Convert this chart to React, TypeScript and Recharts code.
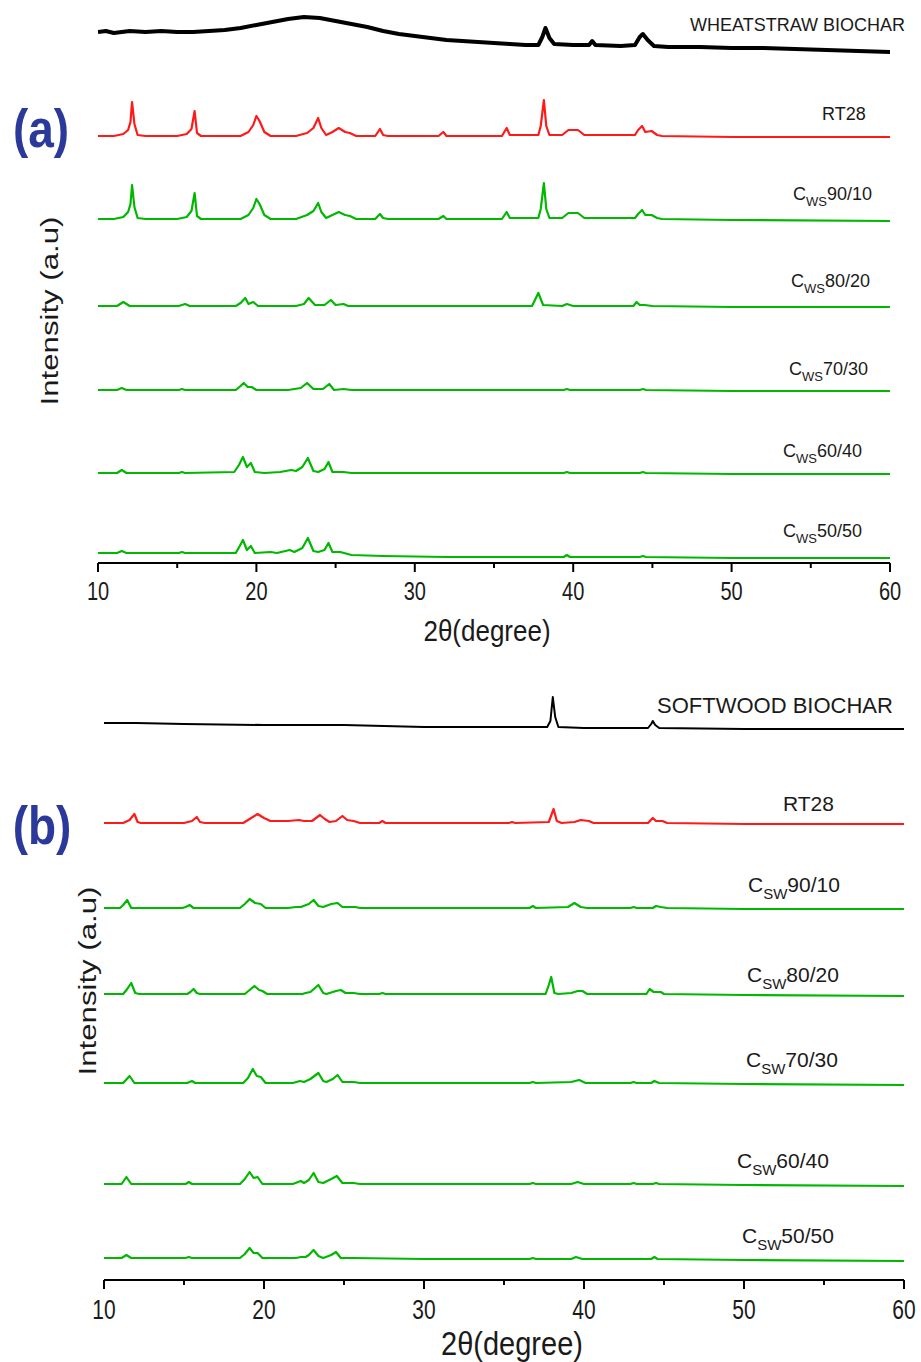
import { LineChart, Line, XAxis, YAxis } from "recharts";

type Pt = [number, number];

const ticks = [10, 15, 20, 25, 30, 35, 40, 45, 50, 55, 60];

// ---- panel (a): wheat straw ----
const wsNames = ["WHEATSTRAW BIOCHAR", "RT28", "90/10", "80/20", "70/30", "60/40", "50/50"];
const wsOffsets = [511, 427, 344, 257, 173, 90, 10];

const wsBiochar: Pt[] = [[10,20],[10.5,21],[11,19],[12,21],[13,20],[14,21],[15,20],[16,20],[17,21],[18,22],[19,24],[20,27],[21,30],[22,33],[23,35],[24,34],[25,31],[26,28],[27,25],[28,21],[29,18],[30,16],[31,14],[32,12],[33,11],[34,10],[35,9],[36,8],[37,7],[37.8,7],[38.05,15],[38.25,24],[38.5,14],[38.8,8],[40,7],[41,7],[41.2,11],[41.4,7],[43,6],[43.9,7],[44.2,15],[44.4,18],[44.7,12],[45.1,6],[46,5],[48,5],[50,4],[52,4],[54,3],[56,2],[58,1],[60,0]];
const wsRt28: Pt[] = [[10,0],[11,0],[11.6,2],[11.9,6],[12.05,14],[12.15,34],[12.3,12],[12.5,1],[13,0],[15,0],[15.6,2],[15.9,7],[16.1,25],[16.25,3],[16.5,0],[19,0],[19.5,4],[19.8,11],[20,20],[20.2,15],[20.5,4],[20.9,0],[22.5,0],[23.2,3],[23.6,8],[23.9,18],[24.1,8],[24.4,1],[24.8,4],[25.2,8],[25.6,4],[25.9,3],[26.3,0],[27.5,0],[27.8,7],[28,1],[28.3,0],[31.5,0],[31.8,4],[32,0],[35.5,0],[35.8,8],[36,1],[37.8,1],[37.95,10],[38.15,36],[38.3,10],[38.5,1],[39.3,1],[39.7,6],[40.3,6],[40.7,1],[43.9,1],[44.1,6],[44.35,10],[44.55,4],[44.95,5],[45.3,1],[45.6,0],[50,-1],[60,-1]];
const ws9010: Pt[] = [[10,0],[11,0],[11.6,2],[11.9,7],[12.05,15],[12.15,34],[12.3,12],[12.5,1],[13,0],[15,0],[15.6,2],[15.9,8],[16.1,26],[16.25,3],[16.5,0],[19,0],[19.5,4],[19.8,11],[20,20],[20.2,15],[20.5,4],[20.9,0],[22.5,0],[23.2,4],[23.6,8],[23.9,16],[24.1,7],[24.4,1],[24.8,4],[25.2,7],[25.6,4],[25.9,3],[26.3,0],[27.5,0],[27.8,5],[28,1],[28.3,0],[31.5,0],[31.8,3],[32,0],[35.5,0],[35.8,7],[36,1],[37.8,1],[37.95,10],[38.15,36],[38.3,10],[38.5,1],[39.3,1],[39.7,6],[40.3,6],[40.7,1],[43.9,1],[44.1,5],[44.35,9],[44.55,4],[44.95,4],[45.3,1],[45.6,0],[50,-1],[60,-2]];
const ws8020: Pt[] = [[10,0],[11.2,0],[11.6,4],[12,0],[15.1,0],[15.5,2],[15.8,0],[18.7,0],[19,3],[19.3,8],[19.5,2],[19.8,4],[20.1,0],[22.5,0],[23,2],[23.3,8],[23.7,1],[24.3,1],[24.7,6],[25,1],[25.5,2],[25.8,0],[30,0],[37.4,0],[37.8,13],[38.1,1],[39.3,0],[39.6,2],[40,0],[43.8,0],[44,4],[44.2,1],[44.5,1],[45,0],[50,-1],[60,-1]];
const ws7030: Pt[] = [[10,0],[11.2,0],[11.5,2],[11.8,0],[15.1,0],[15.3,1],[15.5,0],[18.7,0],[19,4],[19.2,7],[19.45,3],[19.7,3],[20,0],[22,0],[22.8,2],[23.2,7],[23.6,1],[24.2,1],[24.6,6],[24.9,0],[25.5,1],[26,0],[35,0],[39.4,0],[39.6,1],[39.8,0],[44.2,0],[44.4,1],[44.6,0],[50,-1],[60,-1]];
const ws6040: Pt[] = [[10,0],[11.2,0],[11.5,3],[11.8,0],[15.1,0],[15.3,1],[15.5,0],[18.6,1],[18.9,8],[19.15,16],[19.4,6],[19.65,10],[19.9,1],[20.5,0],[21.5,1],[22.2,3],[22.5,2],[22.9,6],[23.25,15],[23.6,2],[23.9,1],[24.3,4],[24.55,11],[24.8,1],[25.5,1],[26,0],[35,0],[39.4,0],[39.6,1],[39.8,0],[44.2,0],[44.4,1],[44.6,0],[50,-1],[60,-1]];
const ws5050: Pt[] = [[10,0],[11.2,0],[11.5,2],[11.8,0],[15.1,0],[15.3,1],[15.5,0],[18.7,0],[18.95,7],[19.15,13],[19.4,3],[19.65,7],[19.9,0],[20.9,1],[21.3,0],[22.1,3],[22.4,1],[22.9,5],[23.25,15],[23.6,2],[23.9,1],[24.3,3],[24.55,10],[24.8,1],[25.3,1],[26,-2],[28,-3],[32,-4],[39.4,-4],[39.6,-2],[39.8,-4],[44.2,-4],[44.4,-3],[44.6,-4],[50,-5],[60,-5]];

// ---- panel (b): softwood ----
const swNames = ["SOFTWOOD BIOCHAR", "RT28", "90/10", "80/20", "70/30", "60/40", "50/50"];
const swOffsets = [551, 457, 372, 286, 197, 96, 22];

const swBiochar: Pt[] = [[10,6],[12,6],[15,5],[20,4],[25,4],[30,2],[35,2],[37.7,2],[37.9,8],[38.05,32],[38.2,12],[38.4,2],[40,1],[44,1],[44.2,5],[44.3,8],[44.45,4],[44.7,1],[50,0],[60,0]];
const swRt28: Pt[] = [[10,0],[11.2,0],[11.6,3],[11.9,9],[12.1,1],[12.3,0],[15,0],[15.5,2],[15.8,6],[16,1],[16.3,0],[18.7,0],[19.2,5],[19.6,9],[20,5],[20.4,2],[21.5,2],[22.2,3],[22.5,2],[23,2],[23.5,8],[23.8,4],[24.1,1],[24.5,2],[24.9,7],[25.2,3],[25.6,2],[26,0],[27.2,0],[27.4,2],[27.6,0],[35.3,0],[35.5,1],[35.7,0],[37.8,1],[38.1,14],[38.3,2],[38.6,0],[39.4,1],[39.8,3],[40.3,2],[40.6,0],[44,0],[44.3,5],[44.5,2],[44.9,2],[45.2,0],[50,-1],[60,-1]];
const sw9010: Pt[] = [[10,0],[11,0],[11.2,3],[11.45,8],[11.7,0],[14.9,0],[15.1,1],[15.35,3],[15.6,0],[18.5,0],[18.8,4],[19.1,9],[19.45,5],[19.8,4],[20.1,0],[21.5,0],[22,1],[22.3,1],[22.8,4],[23.1,8],[23.4,2],[23.7,1],[24.2,4],[24.6,5],[24.9,1],[25.7,1],[26,0],[36.6,0],[36.8,2],[37,0],[39,1],[39.4,5],[39.8,1],[40.2,0],[42.9,0],[43.1,1],[43.3,0],[44.3,0],[44.5,2],[44.8,1],[45.2,0],[50,-1],[60,-1]];
const sw8020: Pt[] = [[10,0],[11.2,0],[11.45,5],[11.7,11],[11.95,1],[12.2,0],[15.2,0],[15.4,2],[15.6,5],[15.8,1],[16,0],[18.8,0],[19.1,4],[19.4,8],[19.7,4],[19.9,3],[20.2,0],[22.4,0],[22.6,1],[22.9,2],[23.4,9],[23.7,1],[23.9,0],[24.5,3],[24.8,4],[25.1,1],[25.6,1],[26,0],[27.2,0],[27.4,1],[27.6,0],[37.6,0],[37.8,9],[37.95,17],[38.15,1],[38.4,0],[39.2,1],[39.6,3],[39.9,3],[40.2,0],[43.9,0],[44.1,5],[44.35,2],[44.8,2],[45,0],[50,-1],[60,-2]];
const sw7030: Pt[] = [[10,0],[11.2,0],[11.6,7],[11.9,0],[15.2,0],[15.5,2],[15.7,0],[18.7,0],[19,5],[19.3,14],[19.55,7],[19.8,6],[20.1,0],[21.8,0],[22.25,2],[22.5,1],[22.9,4],[23.4,10],[23.7,2],[23.9,1],[24.3,4],[24.6,8],[24.9,1],[25.6,1],[26,0],[36.6,0],[36.8,1],[37,0],[39.2,1],[39.7,3],[40.1,0],[42.9,0],[43.1,1],[43.3,0],[44.2,0],[44.4,2],[44.7,0],[50,-1],[60,-2]];
const sw6040: Pt[] = [[10,0],[11.1,0],[11.4,7],[11.7,0],[15.1,0],[15.3,2],[15.5,0],[18.5,0],[18.8,5],[19.1,12],[19.35,6],[19.6,7],[19.9,0],[21.8,0],[22.3,3],[22.5,1],[22.8,4],[23.1,11],[23.4,2],[23.7,1],[24.2,5],[24.55,8],[24.9,1],[25.6,1],[26,0],[36.6,0],[36.8,1],[37,0],[39.2,0],[39.6,2],[40,0],[42.9,0],[43.1,1],[43.3,0],[44.3,0],[44.5,1],[44.7,0],[50,-1],[60,-2]];
const sw5050: Pt[] = [[10,0],[11.1,0],[11.4,3],[11.7,0],[15.1,0],[15.3,1],[15.5,0],[18.5,0],[18.8,4],[19.1,10],[19.35,5],[19.6,5],[19.9,0],[22,0],[22.3,1],[22.6,1],[22.8,3],[23.1,8],[23.4,2],[23.7,0],[24.2,3],[24.5,6],[24.8,0],[25.6,0],[30,-1],[36.6,-1],[36.8,0],[37,-1],[39.2,-1],[39.5,1],[39.9,-1],[44.2,-1],[44.4,1],[44.6,-1],[50,-2],[60,-3]];

const wsSeries = [wsBiochar, wsRt28, ws9010, ws8020, ws7030, ws6040, ws5050];
const swSeries = [swBiochar, swRt28, sw9010, sw8020, sw7030, sw6040, sw5050];

const BLACK = "#000000";
const RED = "#ff1a1a";
const GREEN = "#00b800";
const seriesColors = [BLACK, RED, GREEN, GREEN, GREEN, GREEN, GREEN];

const FONT = "'Liberation Sans', Arial, Helvetica, sans-serif";
const TEXT = "#1a1a1a";

const toRows = (pts: Pt[], off: number) => pts.map(([t, v]) => ({ t, y: v + off }));

const makeTick = (fontSize: number, gap: number) => (props: any) => {
  const { x, y, payload } = props;
  const major = payload.value % 10 === 0;
  return (
    <g>
      <line x1={x} x2={x} y1={y} y2={y + (major ? 9 : 5)} stroke="#000" strokeWidth={2} />
      {major && (
        <text
          transform={`translate(${x},${y + gap}) scale(1,1.3)`}
          textAnchor="middle"
          fontSize={fontSize}
          fontFamily={FONT}
          fill={TEXT}
        >
          {payload.value}
        </text>
      )}
    </g>
  );
};

type PanelProps = {
  top: number;
  height: number;
  margin: { top: number; right: number; left: number; bottom: number };
  yMax: number;
  series: Pt[][];
  offsets: number[];
  blackWidth: number;
  tickFont: number;
  tickGap: number;
};

function Panel({ top, height, margin, yMax, series, offsets, blackWidth, tickFont, tickGap }: PanelProps) {
  return (
    <div style={{ position: "absolute", left: 0, top }}>
      <LineChart width={921} height={height} margin={margin}>
        <XAxis
          dataKey="t"
          type="number"
          domain={[10, 60]}
          ticks={ticks}
          interval={0}
          height={30}
          tickSize={0}
          tickMargin={0}
          tickLine={false}
          axisLine={{ stroke: "#000", strokeWidth: 2 }}
          tick={makeTick(tickFont, tickGap)}
          allowDataOverflow
        />
        <YAxis type="number" domain={[0, yMax]} hide allowDataOverflow />
        {series.map((pts, i) => (
          <Line
            key={i}
            data={toRows(pts, offsets[i])}
            dataKey="y"
            type="linear"
            dot={false}
            activeDot={false}
            stroke={seriesColors[i]}
            strokeWidth={i === 0 ? blackWidth : 2.2}
            strokeLinejoin="round"
            isAnimationActive={false}
          />
        ))}
      </LineChart>
    </div>
  );
}

// label anchors (left x, baseline y) for each trace name
const wsLabelPos = [[690, 31], [822, 120], [793, 200], [791, 287], [789, 375], [783, 457], [783, 537]];
const swLabelPos = [[657, 713], [783, 811], [748, 892], [747, 982], [746, 1067], [737, 1168], [742, 1243]];

function SeriesLabel({ name, x, y, size, sub, subText, i }: any) {
  if (i < 2) {
    return (
      <text x={x} y={y} fontSize={size} fontFamily={FONT} fill={TEXT}>
        {name}
      </text>
    );
  }
  return (
    <text x={x} y={y} fontSize={size} fontFamily={FONT} fill={TEXT}>
      C
      <tspan fontSize={sub} dy={sub * 0.45}>{subText}</tspan>
      <tspan dy={-sub * 0.45}>{name}</tspan>
    </text>
  );
}

export default function App() {
  return (
    <div style={{ position: "absolute", left: 0, top: 0, width: 921, height: 1362, background: "#fff", overflow: "hidden" }}>
      <Panel
        top={0}
        height={625}
        margin={{ top: 8, right: 31, left: 98, bottom: 32 }}
        yMax={555}
        series={wsSeries}
        offsets={wsOffsets}
        blackWidth={4}
        tickFont={20}
        tickGap={37}
      />
      <Panel
        top={660}
        height={690}
        margin={{ top: 28, right: 17, left: 104, bottom: 40 }}
        yMax={592}
        series={swSeries}
        offsets={swOffsets}
        blackWidth={2}
        tickFont={21}
        tickGap={39}
      />
      <svg width={921} height={1362} style={{ position: "absolute", left: 0, top: 0, pointerEvents: "none" }}>
        <text transform="translate(41,147) scale(1,1.15)" textAnchor="middle" fontSize={46} fontWeight="bold" fontFamily={FONT} fill="#2b3a9a">(a)</text>
        <text transform="translate(42,844) scale(1,1.15)" textAnchor="middle" fontSize={46} fontWeight="bold" fontFamily={FONT} fill="#2b3a9a">(b)</text>

        <text transform="translate(58,311) rotate(-90) scale(1.3,1)" textAnchor="middle" fontSize={24} fontFamily={FONT} fill={TEXT}>Intensity (a.u)</text>
        <text transform="translate(96,981) rotate(-90) scale(1.3,1)" textAnchor="middle" fontSize={24} fontFamily={FONT} fill={TEXT}>Intensity (a.u)</text>

        <text transform="translate(487,641) scale(1,1.15)" textAnchor="middle" fontSize={26} fontFamily={FONT} fill={TEXT}>2θ(degree)</text>
        <text transform="translate(512,1355) scale(1,1.15)" textAnchor="middle" fontSize={29} fontFamily={FONT} fill={TEXT}>2θ(degree)</text>

        {wsNames.map((n, i) => (
          <SeriesLabel key={"ws" + i} i={i} name={n} x={wsLabelPos[i][0]} y={wsLabelPos[i][1]} size={18} sub={13} subText="WS" />
        ))}
        {swNames.map((n, i) => (
          <SeriesLabel key={"sw" + i} i={i} name={n} x={swLabelPos[i][0]} y={swLabelPos[i][1]} size={i === 0 ? 22 : 21} sub={15} subText="SW" />
        ))}
      </svg>
    </div>
  );
}
